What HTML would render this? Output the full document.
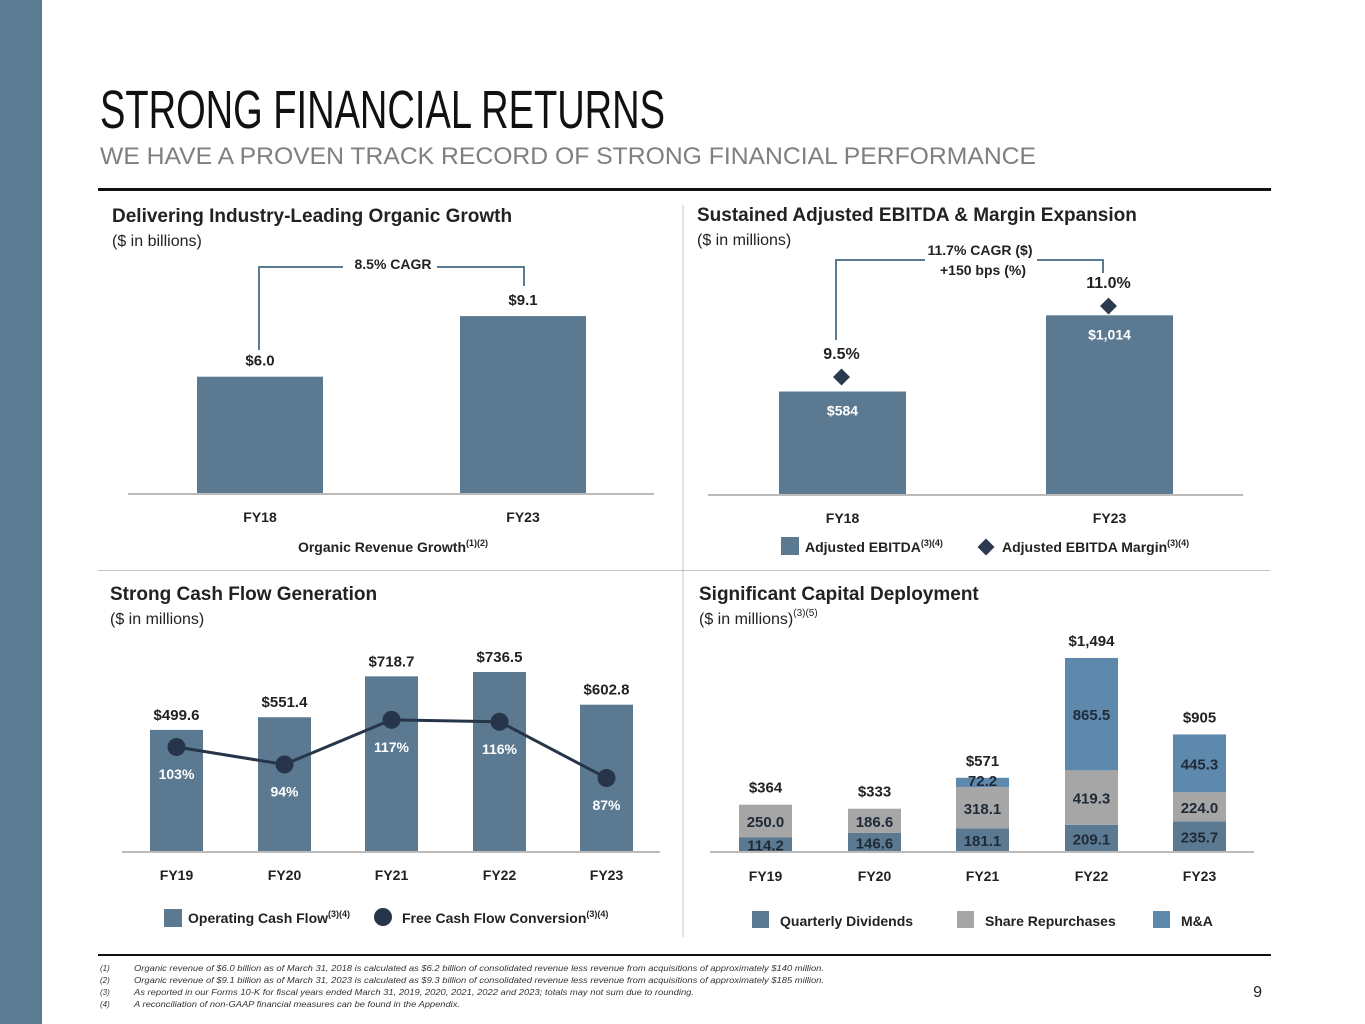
<!DOCTYPE html>
<html><head><meta charset="utf-8"><style>
body{margin:0;background:#fff}
svg{display:block;font-family:"Liberation Sans",sans-serif}
.b{font-weight:bold}
</style></head><body>
<svg id="page" width="1365" height="1024" viewBox="0 0 1365 1024">
<rect x="0" y="0" width="42" height="1024" fill="#5b7b92"/>
<text x="100" y="128" font-size="54" textLength="565" lengthAdjust="spacingAndGlyphs" fill="#111">STRONG FINANCIAL RETURNS</text>
<text x="100" y="164" font-size="24" textLength="936" lengthAdjust="spacingAndGlyphs" fill="#7f7f7f">WE HAVE A PROVEN TRACK RECORD OF STRONG FINANCIAL PERFORMANCE</text>
<rect x="98" y="188" width="1173" height="3" fill="#111"/>
<rect x="98" y="954" width="1173" height="2" fill="#111"/>
<line x1="683" y1="205" x2="683" y2="937" stroke="#bfc5cc"/>
<line x1="98" y1="570.5" x2="1270" y2="570.5" stroke="#bfc5cc"/>

<text x="112" y="222" font-size="19" class="b" fill="#222">Delivering Industry-Leading Organic Growth</text>
<text x="112" y="246" font-size="16" fill="#222">($ in billions)</text>
<text x="697" y="221" font-size="19" class="b" fill="#222">Sustained Adjusted EBITDA &amp; Margin Expansion</text>
<text x="697" y="245" font-size="16" fill="#222">($ in millions)</text>
<text x="110" y="600" font-size="19" class="b" fill="#222">Strong Cash Flow Generation</text>
<text x="110" y="624" font-size="16" fill="#222">($ in millions)</text>
<text x="699" y="600" font-size="19" class="b" fill="#222">Significant Capital Deployment</text>
<text x="699" y="624" font-size="16" fill="#222">($ in millions)<tspan font-size="10" dy="-8">(3)(5)</tspan></text>

<!-- static annotations -->
<g fill="none" stroke="#5b7b92" stroke-width="2">
<polyline points="259,350 259,267 343,267"/><polyline points="437,267 524,267 524,286"/></g>
<text x="393" y="269" font-size="14" class="b" text-anchor="middle" fill="#222">8.5% CAGR</text>
<g fill="none" stroke="#5b7b92" stroke-width="2">
<polyline points="836,340 836,260 925,260"/><polyline points="1037,260 1103,260 1103,273"/></g>
<text x="980" y="255" font-size="14" class="b" text-anchor="middle" fill="#222">11.7% CAGR ($)</text>
<text x="983" y="275" font-size="14" class="b" text-anchor="middle" fill="#222">+150 bps (%)</text>

<text x="393" y="552" font-size="14" class="b" text-anchor="middle" fill="#222">Organic Revenue Growth<tspan font-size="9" dy="-6">(1)(2)</tspan></text>
<rect x="781" y="537" width="18" height="18" fill="#5b7a91"/>
<text x="805" y="552" font-size="14" class="b" fill="#222">Adjusted EBITDA<tspan font-size="9" dy="-6">(3)(4)</tspan></text>
<rect x="980" y="541" width="12" height="12" fill="#2b3a4e" transform="rotate(45 986 547)"/>
<text x="1002" y="552" font-size="14" class="b" fill="#222">Adjusted EBITDA Margin<tspan font-size="9" dy="-6">(3)(4)</tspan></text>
<rect x="164" y="909" width="18" height="18" fill="#5b7a91"/>
<text x="188" y="923" font-size="14" class="b" fill="#222">Operating Cash Flow<tspan font-size="9" dy="-6">(3)(4)</tspan></text>
<circle cx="383" cy="917" r="9" fill="#26354a"/>
<text x="402" y="923" font-size="14" class="b" fill="#222">Free Cash Flow Conversion<tspan font-size="9" dy="-6">(3)(4)</tspan></text>
<rect x="752" y="911" width="17" height="17" fill="#5b7a91"/>
<text x="780" y="926" font-size="14" class="b" fill="#222">Quarterly Dividends</text>
<rect x="957" y="911" width="17" height="17" fill="#a6a6a6"/>
<text x="985" y="926" font-size="14" class="b" fill="#222">Share Repurchases</text>
<rect x="1153" y="911" width="17" height="17" fill="#5e89ad"/>
<text x="1181" y="926" font-size="14" class="b" fill="#222">M&amp;A</text>

<g font-size="8" font-style="italic" fill="#333">
<text x="100" y="971">(1)</text><text x="134" y="971" textLength="690" lengthAdjust="spacingAndGlyphs">Organic revenue of $6.0 billion as of March 31, 2018 is calculated as $6.2 billion of consolidated revenue less revenue from acquisitions of approximately $140 million.</text>
<text x="100" y="983">(2)</text><text x="134" y="983" textLength="690" lengthAdjust="spacingAndGlyphs">Organic revenue of $9.1 billion as of March 31, 2023 is calculated as $9.3 billion of consolidated revenue less revenue from acquisitions of approximately $185 million.</text>
<text x="100" y="995">(3)</text><text x="134" y="995" textLength="560" lengthAdjust="spacingAndGlyphs">As reported in our Forms 10-K for fiscal years ended March 31, 2019, 2020, 2021, 2022 and 2023; totals may not sum due to rounding.</text>
<text x="100" y="1007">(4)</text><text x="134" y="1007" textLength="326" lengthAdjust="spacingAndGlyphs">A reconciliation of non-GAAP financial measures can be found in the Appendix.</text>
</g>
<text x="1262" y="997" font-size="16" text-anchor="end" fill="#222">9</text>
<g id="charts"></g>
</svg>
<script>
const revCats = ["FY18","FY23"];
const revVals = [6.0, 9.1];
const revLabels = ["$6.0","$9.1"];
const ebCats = ["FY18","FY23"];
const ebVals = [584, 1014];
const ebLabels = ["$584","$1,014"];
const marginVals = [9.5, 11.0];
const marginLabels = ["9.5%","11.0%"];
const cfCats = ["FY19","FY20","FY21","FY22","FY23"];
const ocfVals = [499.6, 551.4, 718.7, 736.5, 602.8];
const ocfLabels = ["$499.6","$551.4","$718.7","$736.5","$602.8"];
const fcfVals = [103, 94, 117, 116, 87];
const fcfLabels = ["103%","94%","117%","116%","87%"];
const capCats = ["FY19","FY20","FY21","FY22","FY23"];
const divVals = [114.2, 146.6, 181.1, 209.1, 235.7];
const repVals = [250.0, 186.6, 318.1, 419.3, 224.0];
const maVals = [0, 0, 72.2, 865.5, 445.3];
const capTotals = ["$364","$333","$571","$1,494","$905"];

const NS="http://www.w3.org/2000/svg";
const root=document.getElementById('charts');
function mk(tag,attrs,txt){const e=document.createElementNS(NS,tag);for(const k in attrs)e.setAttribute(k,attrs[k]);if(txt!=null)e.textContent=txt;root.appendChild(e);return e;}

// Chart 1
{const base=494,k=19.55,xs=[197,460],w=126;
const y=v=>base-v*k;
revVals.forEach((v,i)=>{
const r=mk('rect',{x:xs[i],y:y(v),width:w,height:base-y(v),fill:'#5b7a91'});


const t=mk('text',{x:xs[i]+w/2,y:y(v)-11,'font-size':15,'font-weight':'bold','text-anchor':'middle',fill:'#222'},revLabels[i]);


const c=mk('text',{x:xs[i]+w/2,y:522,'font-size':14,'font-weight':'bold','text-anchor':'middle',fill:'#222'},revCats[i]);

});
const a=mk('line',{x1:128,y1:base,x2:654,y2:base,stroke:'#bbb','stroke-width':2});

}

// Chart 2
{const base=495,k=0.1772,xs=[779,1046],w=127;
const y=v=>base-v*k; const my=m=>377-(m-9.5)*47.3;
ebVals.forEach((v,i)=>{
const r=mk('rect',{x:xs[i],y:y(v),width:w,height:base-y(v),fill:'#5b7a91'});


const t=mk('text',{x:xs[i]+w/2,y:y(v)+24,'font-size':14,'font-weight':'bold','text-anchor':'middle',fill:'#fff'},ebLabels[i]);


const cx=xs[i]+w/2-1,cy=my(marginVals[i]);
const d=mk('rect',{x:cx-6,y:cy-6,width:12,height:12,fill:'#2b3a4e',transform:`rotate(45 ${cx} ${cy})`});


const m=mk('text',{x:cx,y:cy-18,'font-size':16,'font-weight':'bold','text-anchor':'middle',fill:'#222'},marginLabels[i]);


const c=mk('text',{x:xs[i]+w/2,y:523,'font-size':14,'font-weight':'bold','text-anchor':'middle',fill:'#222'},ebCats[i]);

});
const a=mk('line',{x1:708,y1:base,x2:1243,y2:base,stroke:'#bbb','stroke-width':2});

}

// Chart 3
{const base=852,k=0.2444,xs=[150,258,365,473,580],w=53;
const y=v=>base-v*k; const py=p=>946.8-p*1.94;
ocfVals.forEach((v,i)=>{
const r=mk('rect',{x:xs[i],y:y(v),width:w,height:base-y(v),fill:'#5b7a91'});


const t=mk('text',{x:xs[i]+w/2,y:y(v)-10,'font-size':15,'font-weight':'bold','text-anchor':'middle',fill:'#222'},ocfLabels[i]);


const c=mk('text',{x:xs[i]+w/2,y:880,'font-size':14,'font-weight':'bold','text-anchor':'middle',fill:'#222'},cfCats[i]);

});
const pts=fcfVals.map((p,i)=>(xs[i]+w/2)+','+py(p)).join(' ');
const l=mk('polyline',{points:pts,fill:'none',stroke:'#26354a','stroke-width':3});


fcfVals.forEach((p,i)=>{
const c=mk('circle',{cx:xs[i]+w/2,cy:py(p),r:9,fill:'#26354a'});


const t=mk('text',{x:xs[i]+w/2,y:py(p)+32,'font-size':14,'font-weight':'bold','text-anchor':'middle',fill:'#fff'},fcfLabels[i]);

});
const a=mk('line',{x1:122,y1:base,x2:660,y2:base,stroke:'#bbb','stroke-width':2});

}

// Chart 4
{const base=852,k=0.1299,xs=[739,848,956,1065,1173],w=53;
const segs=[[divVals,'#5b7a91','dividends'],[repVals,'#a6a6a6','repurchases'],[maVals,'#5e89ad','ma']];
capCats.forEach((cat,i)=>{
let cum=0;
segs.forEach(([arr,col,nm])=>{
const v=arr[i]; if(v<=0)return;
const y0=base-cum*k, h=v*k; cum+=v;
const r=mk('rect',{x:xs[i],y:y0-h,width:w,height:h,fill:col});


const t=mk('text',{x:xs[i]+w/2,y:Math.min(y0-h/2+6,y0-1),'font-size':15,'font-weight':'bold','text-anchor':'middle',fill:'#1f2a38'},v.toFixed(1));

});
const tt=mk('text',{x:xs[i]+w/2,y:base-cum*k-12,'font-size':15,'font-weight':'bold','text-anchor':'middle',fill:'#222'},capTotals[i]);


const c=mk('text',{x:xs[i]+w/2,y:881,'font-size':14,'font-weight':'bold','text-anchor':'middle',fill:'#222'},cat);

});
const a=mk('line',{x1:710,y1:base,x2:1254,y2:base,stroke:'#bbb','stroke-width':2});

}
</script>
</body></html>
